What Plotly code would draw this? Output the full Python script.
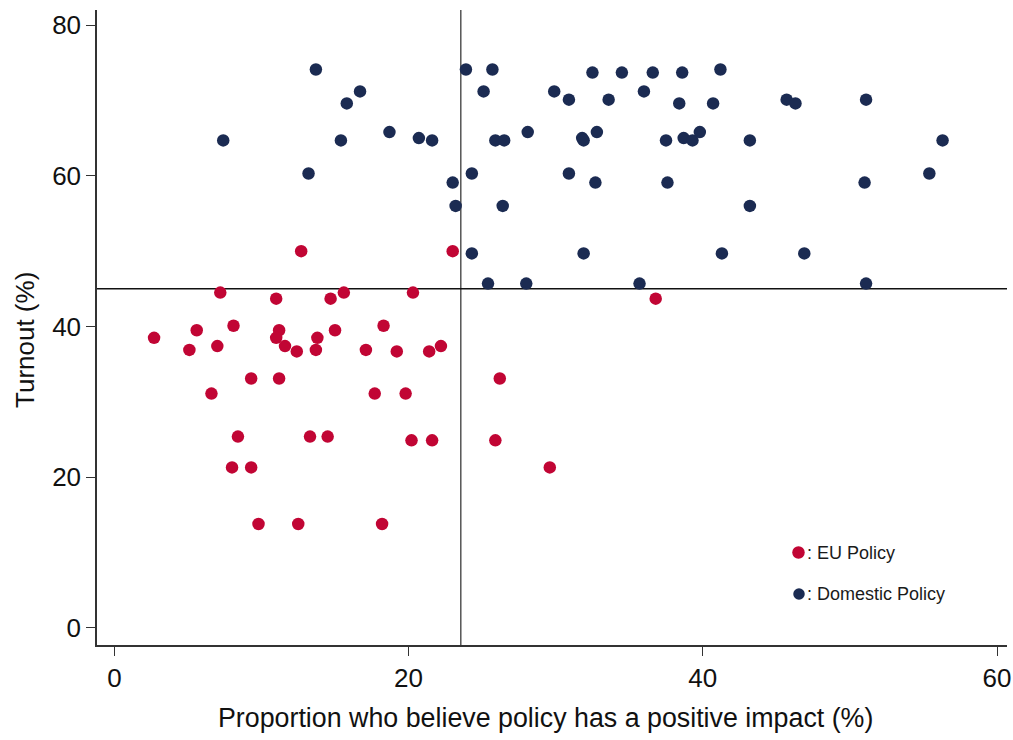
import plotly.graph_objects as go

# EU policy points (x = % positive impact, y = turnout %)
eu_x = [7.2, 11.0, 14.7, 15.6, 20.3, 2.7, 5.6, 5.1, 7.0, 8.1, 11.2, 11.0, 11.6, 12.4,
        13.8, 13.7, 15.0, 18.3, 17.1, 19.2, 21.4, 22.2, 9.3, 11.2, 26.2, 6.6, 17.7,
        19.8, 8.4, 13.3, 14.5, 20.2, 21.6, 25.9, 8.0, 9.3, 29.6, 9.8, 12.5, 18.2,
        12.7, 23.0, 36.8]
eu_y = [44.5, 43.7, 43.7, 44.5, 44.5, 38.5, 39.5, 36.9, 37.4, 40.1, 39.5, 38.5, 37.4, 36.7,
        38.5, 36.9, 39.5, 40.1, 36.9, 36.7, 36.7, 37.4, 33.1, 33.1, 33.1, 31.1, 31.1,
        31.1, 25.4, 25.4, 25.4, 24.9, 24.9, 24.9, 21.3, 21.3, 21.3, 13.8, 13.8, 13.8,
        50.0, 50.0, 43.7]

# Domestic policy points
dom_x = [13.7, 23.9, 25.7, 16.7, 15.8, 25.1, 7.4, 15.4, 18.7, 20.7, 21.6, 25.9, 26.5,
         13.2, 24.3, 23.0, 23.2, 26.4, 24.3, 25.4, 29.9, 30.9, 32.5, 34.5, 36.6, 38.6,
         41.2, 33.6, 36.0, 38.4, 40.7, 45.7, 46.3, 51.1, 28.1, 31.8, 31.9, 32.8, 37.5,
         38.7, 39.3, 39.8, 43.2, 56.3, 30.9, 32.7, 37.6, 51.0, 55.4, 43.2, 31.9, 41.3,
         46.9, 28.0, 35.7, 51.1]
dom_y = [74.1, 74.1, 74.1, 71.2, 69.6, 71.2, 64.7, 64.7, 65.8, 65.0, 64.7, 64.7, 64.7,
         60.3, 60.3, 59.1, 56.0, 56.0, 49.7, 45.7, 71.2, 70.1, 73.7, 73.7, 73.7, 73.7,
         74.1, 70.1, 71.2, 69.6, 69.6, 70.1, 69.6, 70.1, 65.8, 65.0, 64.7, 65.8, 64.7,
         65.0, 64.7, 65.8, 64.7, 64.7, 60.3, 59.1, 59.1, 59.1, 60.3, 56.0, 49.7, 49.7,
         49.7, 45.7, 45.7, 45.7]

x_ticks = [0, 20, 40, 60]
y_ticks = [0, 20, 40, 60, 80]
ref_x = 23.55
ref_y = 45.0

RED = "#c10534"
NAVY = "#1b2b52"
FONT = "Liberation Sans, Arial, sans-serif"

fig = go.Figure()
fig.add_trace(go.Scatter(x=eu_x, y=eu_y, mode="markers", name=": EU Policy",
                         marker=dict(color=RED, size=12.5, line=dict(width=0))))
fig.add_trace(go.Scatter(x=dom_x, y=dom_y, mode="markers", name=": Domestic Policy",
                         marker=dict(color=NAVY, size=12.5, line=dict(width=0))))

# reference lines
fig.add_shape(type="line", xref="x", yref="paper", x0=ref_x, x1=ref_x, y0=0, y1=1,
              line=dict(color="#555555", width=1.5), layer="below")
fig.add_shape(type="line", xref="paper", yref="y", x0=0, x1=1, y0=ref_y, y1=ref_y,
              line=dict(color="#111111", width=1.5), layer="below")

W, H = 1013, 740
L, R, T, B = 97, 6, 10, 95
pw, ph = W - L - R, H - T - B

def px(xp):
    return (xp - L) / pw

def py(yp):
    return (H - B - yp) / ph

# manual legend
leg = [(RED, 12.5, 798.5, 552.5, ": EU Policy"), (NAVY, 11.5, 799, 594, ": Domestic Policy")]
for col, d, cx, cy, txt in leg:
    fig.add_shape(type="circle", xref="paper", yref="paper",
                  x0=px(cx - d / 2), x1=px(cx + d / 2), y0=py(cy + d / 2), y1=py(cy - d / 2),
                  fillcolor=col, line=dict(width=0))
    fig.add_annotation(xref="paper", yref="paper", x=px(805), y=py(cy),
                       text=txt, showarrow=False, xanchor="left", yanchor="middle",
                       font=dict(family=FONT, size=18, color="#1a1a1a"))

# axis titles
fig.add_annotation(xref="paper", yref="paper", x=px(545), y=py(718),
                   text="Proportion who believe policy has a positive impact (%)",
                   showarrow=False, xanchor="center", yanchor="middle",
                   font=dict(family=FONT, size=26.8, color="#111111"))
fig.add_annotation(xref="paper", yref="paper", x=px(25), y=py(340),
                   text="Turnout (%)", textangle=-90,
                   showarrow=False, xanchor="center", yanchor="middle",
                   font=dict(family=FONT, size=26, color="#111111"))

axis_common = dict(ticks="outside", ticklen=9, tickwidth=1.3, tickcolor="#333",
                   showgrid=False, zeroline=False, showline=True, linecolor="#333",
                   linewidth=1.5, automargin=False,
                   tickfont=dict(family=FONT, size=26, color="#111"))

fig.update_layout(
    width=W, height=H,
    margin=dict(l=L, r=R, t=T, b=B, autoexpand=False),
    paper_bgcolor="white", plot_bgcolor="white",
    showlegend=False,
    font=dict(family=FONT, size=26, color="#111111"),
    xaxis=dict(range=[-1.18, 60.68], tickvals=x_ticks, **axis_common),
    yaxis=dict(range=[-2.26, 82.0], tickvals=y_ticks, **axis_common),
)

fig.write_html("out.html",
               config={"displayModeBar": False},
               post_script="document.body.style.margin='0';document.body.style.overflow='hidden';")
